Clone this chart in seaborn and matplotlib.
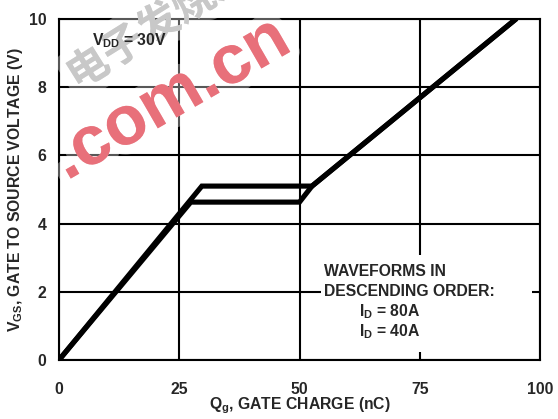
import matplotlib
matplotlib.use("Agg")
import matplotlib.pyplot as plt
import matplotlib.patheffects as pe
from matplotlib.patches import Rectangle
import seaborn as sns
import pandas as pd

# Data
q_80a = [0.0, 29.7, 52.6, 95.0]
v_80a = [0.0, 5.10, 5.10, 10.0]
q_40a = [0.0, 27.4, 50.0, 52.6, 95.0]
v_40a = [0.0, 4.63, 4.63, 5.10, 10.0]
x_ticks = [0, 25, 50, 75, 100]
y_ticks = [0, 2, 4, 6, 8, 10]

df = pd.concat([
    pd.DataFrame({"Qg": q_80a, "VGS": v_80a, "ID": "80A"}),
    pd.DataFrame({"Qg": q_40a, "VGS": v_40a, "ID": "40A"}),
])

sns.set_theme(style="white")
plt.rcParams["font.family"] = ["Liberation Sans", "DejaVu Sans"]
plt.rcParams["font.weight"] = "bold"
plt.rcParams["mathtext.fontset"] = "custom"
plt.rcParams["mathtext.rm"] = "Liberation Sans:bold"
plt.rcParams["mathtext.bf"] = "Liberation Sans:bold"
plt.rcParams["mathtext.it"] = "Liberation Sans:bold"

FS = 11.3

fig = plt.figure(figsize=(5.58, 4.19), dpi=100)
ax = fig.add_axes([59/558, 1-360/419, (540-59)/558, (360-19)/419])

for lid in ["80A", "40A"]:
    sub = df[df["ID"] == lid]
    sns.lineplot(data=sub, x="Qg", y="VGS", ax=ax, color="black", linewidth=3.7,
                 sort=False, estimator=None, legend=False, zorder=3,
                 solid_joinstyle="miter")

ax.set_xlim(0, 100)
ax.set_ylim(0, 10)
ax.set_xticks(x_ticks)
ax.set_yticks(y_ticks)
ax.set_xticklabels([str(t) for t in x_ticks], fontsize=FS, fontweight="bold")
ax.set_yticklabels([str(t) for t in y_ticks], fontsize=FS, fontweight="bold")
ax.tick_params(axis="x", length=0, pad=16)
ax.tick_params(axis="y", length=0, pad=9)
ax.grid(True, color="black", linewidth=1.5)
ax.set_axisbelow(True)
for s in ax.spines.values():
    s.set_color("black")
    s.set_linewidth(1.5)
ax.patch.set_alpha(0)

ax.set_xlabel(r"$\mathbf{Q}_{\mathbf{g}}$, GATE CHARGE (nC)", fontsize=FS,
              fontweight="bold", labelpad=-1)
ax.set_ylabel(r"$\mathbf{V}_{\mathbf{GS}}$, GATE TO SOURCE VOLTAGE (V)", fontsize=FS,
              fontweight="bold", labelpad=3)

# white box behind the annotation
ax.add_patch(Rectangle((54.5, 0.23), 98.3 - 54.5, 3.08 - 0.23, facecolor="white",
                       edgecolor="none", zorder=2.5))
ax.text(55.1, 2.475, "WAVEFORMS IN", fontsize=FS, fontweight="bold",
        ha="left", va="baseline", zorder=4)
ax.text(55.1, 1.877, "DESCENDING ORDER:", fontsize=FS, fontweight="bold",
        ha="left", va="baseline", zorder=4)
ax.text(62.3, 1.27, r"$\mathbf{I}_{\mathbf{D}}$ = 80A", fontsize=FS, fontweight="bold",
        ha="left", va="baseline", zorder=4)
ax.text(62.3, 0.683, r"$\mathbf{I}_{\mathbf{D}}$ = 40A", fontsize=FS, fontweight="bold",
        ha="left", va="baseline", zorder=4)

# watermark (drawn on top, semi-transparent halo)
halo = [pe.withStroke(linewidth=14, foreground=(1, 1, 1, 0.35))]
fig.text(0.285, 0.94, "电子发烧友", color="#c8c8c8", fontsize=30,
         rotation=32, ha="center", va="center", zorder=10,
         family=["Noto Sans CJK SC", "DejaVu Sans"], path_effects=halo)
fig.text(0.307, 0.762, ".com.cn", color="#e8707a", fontsize=50,
         fontweight="bold", rotation=30, ha="center", va="center", zorder=11,
         family=["Liberation Sans"], path_effects=halo)

# V_DD label kept on top of the watermark
fig.text(6.8, 9.24, r"$\mathbf{V}_{\mathbf{DD}}$ = 30V", fontsize=FS, fontweight="bold",
         ha="left", va="baseline", zorder=12, transform=ax.transData)

fig.savefig("out.png", dpi=100)
